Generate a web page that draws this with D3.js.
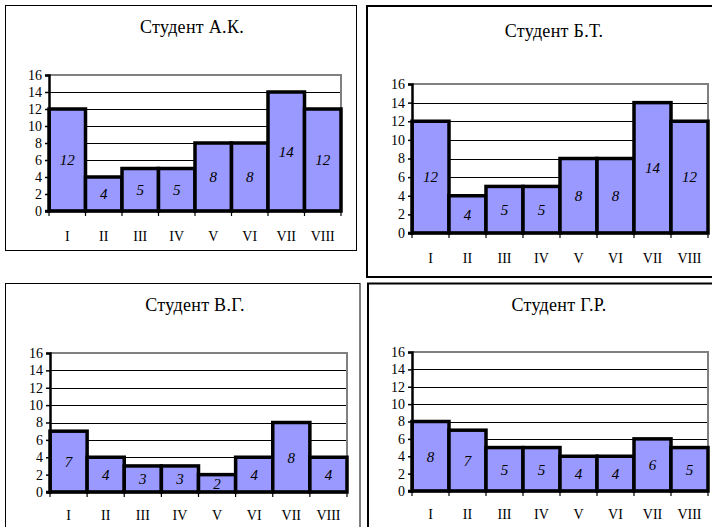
<!DOCTYPE html>
<html>
<head>
<meta charset="utf-8">
<script src="https://cdn.jsdelivr.net/npm/d3@7"></script>
<style>
  html, body { margin: 0; padding: 0; background: #fff; }
  svg { display: block; }
  text { font-family: "Liberation Serif", "Times New Roman", serif; fill: #000; }
</style>
</head>
<body>
<svg id="chart" width="712" height="527"></svg>
<script>
// Semesters (categories) shared by all four charts
const categories = ["I", "II", "III", "IV", "V", "VI", "VII", "VIII"];
// Chart titles
const titles = ["Студент А.К.", "Студент Б.Т.", "Студент В.Г.", "Студент Г.Р."];
// Values per student
const valuesAK = [12, 4, 5, 5, 8, 8, 14, 12];
const valuesBT = [12, 4, 5, 5, 8, 8, 14, 12];
const valuesVG = [7, 4, 3, 3, 2, 4, 8, 4];
const valuesGR = [8, 7, 5, 5, 4, 4, 6, 5];
// Y axis ticks
const yTicks = [0, 2, 4, 6, 8, 10, 12, 14, 16];

const seriesList = [valuesAK, valuesBT, valuesVG, valuesGR];

// Panel geometry: outer frame and plot area
const panels = [
  { frame: [5.5, 5.5, 351, 245], fw: 1, plot: { x0: 49, x1: 341, yTop: 75, yBot: 211 }, title: [192, 33], labelDy: 30 },
  { frame: [367, 6, 350, 271], fw: 2, plot: { x0: 412, x1: 708, yTop: 84, yBot: 233 }, title: [554, 37], labelDy: 30 },
  { frame: [5.5, 283.5, 354.5, 250], fw: 1, plot: { x0: 50, x1: 347, yTop: 353, yBot: 492 }, title: [195, 311], labelDy: 28 },
  { frame: [368, 283.5, 350, 250], fw: 2, plot: { x0: 412, x1: 708, yTop: 352, yBot: 491 }, title: [559, 311], labelDy: 28 }
];

const serif = "Liberation Serif, Times New Roman, serif";
const svg = d3.select("#chart");

panels.forEach((p, i) => {
  const values = seriesList[i];
  const g = svg.append("g");

  // outer frame
  g.append("rect")
    .attr("x", p.frame[0]).attr("y", p.frame[1])
    .attr("width", p.frame[2]).attr("height", p.frame[3])
    .attr("fill", "#fff").attr("stroke", "#000").attr("stroke-width", p.fw);

  const x = d3.scaleBand().domain(categories).range([p.plot.x0, p.plot.x1]).paddingInner(0).paddingOuter(0);
  const y = d3.scaleLinear().domain([0, 16]).range([p.plot.yBot, p.plot.yTop]);

  // title
  g.append("text")
    .attr("x", p.title[0]).attr("y", p.title[1])
    .attr("text-anchor", "middle")
    .attr("font-size", 18)
    .attr("letter-spacing", 0.3)
    .text(titles[i]);

  // horizontal gridlines
  g.append("g").selectAll("line")
    .data(yTicks.filter(t => t > 0 && t < 16))
    .join("line")
    .attr("x1", p.plot.x0).attr("x2", p.plot.x1)
    .attr("y1", d => Math.round(y(d)) + 0.5).attr("y2", d => Math.round(y(d)) + 0.5)
    .attr("stroke", "#000").attr("stroke-width", 1.2);

  // plot area border (top and right, grey)
  g.append("path")
    .attr("d", `M${p.plot.x0},${y(16)}H${p.plot.x1}V${y(0)}`)
    .attr("fill", "none").attr("stroke", "#808080").attr("stroke-width", 2);

  // bars
  g.append("g").selectAll("rect")
    .data(values)
    .join("rect")
    .attr("x", (d, k) => x(categories[k]))
    .attr("y", d => y(d))
    .attr("width", x.bandwidth())
    .attr("height", d => y(0) - y(d))
    .attr("fill", "#9999FF")
    .attr("stroke", "#000")
    .attr("stroke-width", 3.5);

  // value labels
  g.append("g").selectAll("text")
    .data(values)
    .join("text")
    .attr("x", (d, k) => x(categories[k]) + x.bandwidth() / 2)
    .attr("y", d => (y(d) + y(0)) / 2)
    .attr("dy", "0.35em")
    .attr("text-anchor", "middle")
    .attr("font-size", 15)
    .attr("font-style", "italic")
    .text(d => d);

  // y axis
  const yAxis = d3.axisLeft(y).tickValues(yTicks).tickSize(4).tickPadding(3);
  const ya = g.append("g").attr("transform", `translate(${p.plot.x0},0)`).call(yAxis);
  ya.attr("font-family", serif).attr("font-size", 14);
  ya.select(".domain").attr("stroke", "#000").attr("stroke-width", 2.5);
  ya.selectAll(".tick line").attr("stroke", "#000").attr("stroke-width", 1.5);
  ya.selectAll(".tick text").attr("fill", "#000");

  // x axis: ticks at category boundaries
  const xa = g.append("g");
  xa.append("line")
    .attr("x1", p.plot.x0 - 4).attr("x2", p.plot.x1)
    .attr("y1", y(0)).attr("y2", y(0))
    .attr("stroke", "#000").attr("stroke-width", 2.5);
  const boundaries = categories.map(c => x(c)).concat([p.plot.x1]);
  xa.selectAll("line.tk")
    .data(boundaries)
    .join("line")
    .attr("class", "tk")
    .attr("x1", d => d).attr("x2", d => d)
    .attr("y1", y(0)).attr("y2", y(0) + 5)
    .attr("stroke", "#000").attr("stroke-width", 1.2);
  xa.selectAll("text")
    .data(categories)
    .join("text")
    .attr("x", c => x(c) + x.bandwidth() / 2)
    .attr("y", y(0) + p.labelDy)
    .attr("text-anchor", "middle")
    .attr("font-size", 14)
    .text(c => c);
});
</script>
</body>
</html>
